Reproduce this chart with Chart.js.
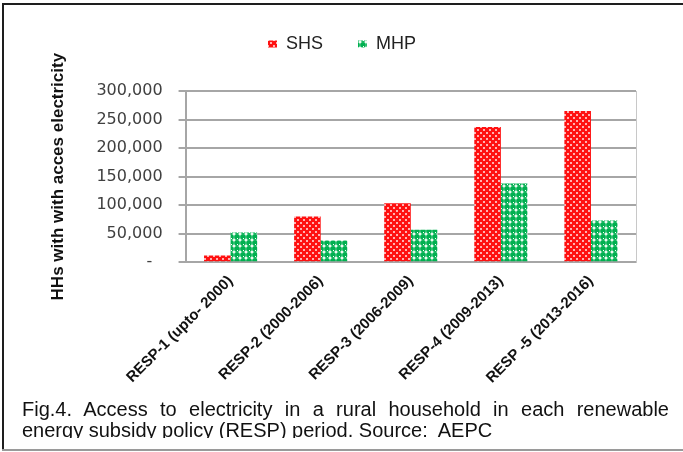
<!DOCTYPE html>
<html>
<head>
<meta charset="utf-8">
<script src="https://cdn.jsdelivr.net/npm/chart.js@4.4.1/dist/chart.umd.min.js"></script>
<style>
  body { margin: 0; background: #fff; }
  #page { position: relative; width: 683px; height: 452px; overflow: hidden; }
  #chart { position: absolute; left: 0; top: 0; }
  .frameTop { position: absolute; left: 2px; top: 3px; width: 681px; height: 2px; background: #1e1e1e; }
  .frameLeft { position: absolute; left: 2px; top: 3px; width: 2px; height: 447px; background: #1e1e1e; }
  .frameBottom { position: absolute; left: 2px; top: 449px; width: 681px; height: 2px; background: #9a9a9a; }
  #caption { position: absolute; left: 22px; top: 399px; width: 647px; height: 39px; overflow: hidden;
    font-family: "Liberation Sans", Arial, sans-serif; font-size: 20px; line-height: 21px; color: #111; }
  #caption .l1 { text-align: justify; text-align-last: justify; white-space: nowrap; }
</style>
</head>
<body>
<div id="page">
  <div class="frameTop"></div>
  <div class="frameLeft"></div>
  <div class="frameBottom"></div>
  <canvas id="chart" width="683" height="403"></canvas>
  <div id="caption">
    <div class="l1">Fig.4. Access to electricity in a rural household in each renewable</div>
    <div>energy subsidy policy (RESP) period. Source:&nbsp; AEPC</div>
  </div>
</div>
<script>
// Datos
const periodos = ["RESP-1 (upto- 2000)", "RESP-2 (2000-2006)", "RESP-3 (2006-2009)", "RESP-4 (2009-2013)", "RESP -5 (2013-2016)"];
const shs = [12000, 80000, 103500, 237000, 265000];
const mhp = [52000, 38000, 57000, 138000, 73000];
const yTicks = [0, 50000, 100000, 150000, 200000, 250000, 300000];

// patrones de relleno
function patronRojo() {
    const c = document.createElement("canvas");
    c.width = 6; c.height = 6;
    const g = c.getContext("2d");
    g.fillStyle = "#ff1010";
    g.fillRect(0, 0, 6, 6);
    g.fillStyle = "#ffb0b0";
    g.fillRect(0, 0, 2, 2);
    g.fillRect(3, 3, 2, 2);
    return g.createPattern(c, "repeat");
}

function patronVerde() {
    const c = document.createElement("canvas");
    c.width = 6; c.height = 6;
    const g = c.getContext("2d");
    g.fillStyle = "#ffffff";
    g.fillRect(0, 0, 6, 6);
    g.fillStyle = "#00b050";
    g.beginPath();
    g.arc(3, 3, 2.9, 0, Math.PI * 2);
    g.fill();
    g.fillStyle = "#ffffff";
    g.fillRect(3, 4, 1, 1);
    return g.createPattern(c, "repeat");
}

Chart.defaults.font.family = "'Liberation Sans', Arial, sans-serif";
Chart.defaults.color = "#333";

// espacio extra bajo la leyenda
const legendGap = {
    id: "legendGap",
    beforeInit(chart) {
        const fit = chart.legend.fit;
        chart.legend.fit = function () {
            fit.bind(chart.legend)();
            this.height += 28;
        };
    }
};

const chart = new Chart(document.getElementById("chart"), {
    type: "bar",
    data: {
        labels: periodos,
        datasets: [
            { label: "SHS", data: shs, backgroundColor: patronRojo(), borderWidth: 0 },
            { label: "MHP", data: mhp, backgroundColor: patronVerde(), borderWidth: 0 }
        ]
    },
    options: {
        responsive: false,
        animation: false,
        layout: { padding: { left: 48, right: 47, top: 0, bottom: 14 } },
        datasets: { bar: { barPercentage: 1, categoryPercentage: 0.59 } },
        plugins: {
            legend: {
                labels: {
                    boxWidth: 9,
                    boxHeight: 7,
                    padding: 35,
                    color: "#222",
                    font: { size: 18 }
                }
            },
            tooltip: { enabled: false }
        },
        scales: {
            x: {
                grid: { display: false },
                border: { color: "#a6a6a6", width: 2 },
                ticks: {
                    maxRotation: 45,
                    minRotation: 45,
                    padding: 2,
                    color: "#111",
                    font: { size: 15, weight: "bold" }
                }
            },
            y: {
                min: 0,
                max: 300000,
                afterBuildTicks(axis) { axis.ticks = yTicks.map(v => ({ value: v })); },
                grid: { color: "#a6a6a6", lineWidth: 2, tickLength: 7 },
                border: { color: "#a6a6a6", width: 2 },
                ticks: {
                    padding: 16,
                    color: "#404040",
                    font: { family: "'DejaVu Sans', Verdana, sans-serif", size: 16 },
                    callback: v => v === 0 ? "-  " : v.toLocaleString("en-US")
                },
                title: {
                    display: true,
                    text: "HHs with with acces electricity",
                    color: "#111",
                    padding: { top: 0, bottom: 12 },
                    font: { size: 17, weight: "bold" }
                }
            },
            y2: {
                position: "right",
                min: 0,
                max: 300000,
                grid: { drawOnChartArea: false, drawTicks: false },
                border: { color: "#c8c8c8", width: 1 },
                ticks: { display: false }
            }
        }
    },
    plugins: [legendGap]
});
</script>
</body>
</html>
